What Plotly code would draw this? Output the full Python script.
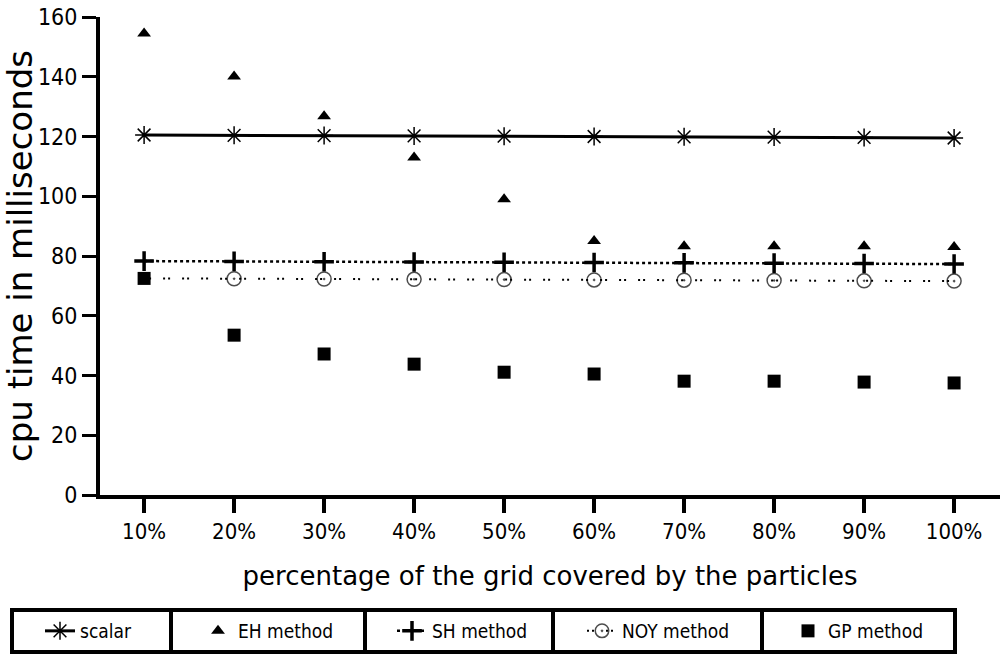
import plotly.graph_objects as go

categories = ["10%", "20%", "30%", "40%", "50%", "60%", "70%", "80%", "90%", "100%"]
xpos = [1, 2, 3, 4, 5, 6, 7, 8, 9, 10]
scalar = [120.5, 120.4, 120.3, 120.2, 120.1, 120.0, 119.9, 119.8, 119.7, 119.5]
eh = [154.5, 140.1, 126.8, 113.0, 99.0, 85.0, 83.3, 83.3, 83.3, 83.0]
sh = [78.3, 78.2, 78.1, 78.0, 77.9, 77.8, 77.7, 77.6, 77.5, 77.3]
noy = [72.5, 72.4, 72.3, 72.2, 72.1, 72.0, 71.9, 71.8, 71.7, 71.6]
gp = [72.5, 53.5, 47.2, 43.8, 41.1, 40.5, 38.1, 38.1, 37.8, 37.5]

FONT = "DejaVu Sans Condensed, Liberation Sans Narrow, sans-serif"
TFONT = "DejaVu Sans, Verdana, sans-serif"

fig = go.Figure()
fig.add_trace(go.Scatter(x=xpos, y=scalar, name="scalar", mode="lines+markers",
    line=dict(color="black", width=3),
    marker=dict(symbol="asterisk-open", size=15, line=dict(color="black", width=1.5)),
    legend="legend"))
fig.add_trace(go.Scatter(x=xpos, y=eh, name="EH method", mode="markers",
    marker=dict(symbol="triangle-up", size=12, color="black"),
    legend="legend2"))
fig.add_trace(go.Scatter(x=xpos, y=sh, name="SH method", mode="lines+markers",
    line=dict(color="black", width=2.5, dash="dot"),
    marker=dict(symbol="cross-thin-open", size=14, line=dict(color="black", width=3.5)),
    legend="legend3"))
fig.add_trace(go.Scatter(x=xpos, y=noy, name="NOY method", mode="lines+markers",
    line=dict(color="black", width=2, dash="2px,3px,2px,12px"),
    marker=dict(symbol="circle-open-dot", size=[9, 14, 14, 14, 14, 14, 14, 14, 14, 14],
                color="black", line=dict(color="black", width=1.5)),
    legend="legend4"))
fig.add_trace(go.Scatter(x=xpos, y=gp, name="GP method", mode="markers",
    marker=dict(symbol="square", size=13, color="black"),
    legend="legend5"))

W, H = 1003, 656
L, R, T, B = 100, 3, 17, 161
pw, ph = W - L - R, H - T - B

def px(x):
    return (x - L) / pw

def py(y):
    return (H - B - y) / ph

shapes = []
shapes.append(dict(type="rect", xref="paper", yref="paper",
                   x0=px(12), x1=px(955), y0=py(652), y1=py(610),
                   line=dict(color="black", width=4), fillcolor="rgba(0,0,0,0)"))
for xv in [171, 365, 553, 762]:
    shapes.append(dict(type="line", xref="paper", yref="paper",
                       x0=px(xv), x1=px(xv), y0=py(652), y1=py(610),
                       line=dict(color="black", width=4)))

legfont = dict(family=FONT, size=19, color="black")
ly = 1 - 631 / H
legs = {}
for key, xv in [("legend", 40), ("legend2", 198), ("legend3", 392), ("legend4", 582), ("legend5", 788)]:
    legs[key] = dict(x=xv / W, y=ly, xref="container", yref="container",
                     xanchor="left", yanchor="middle", orientation="h",
                     font=legfont, bgcolor="rgba(0,0,0,0)", borderwidth=0)

fig.update_layout(
    width=W, height=H,
    margin=dict(l=L, r=R, t=T, b=B, pad=0),
    plot_bgcolor="white", paper_bgcolor="white",
    showlegend=True,
    shapes=shapes,
    xaxis=dict(range=[0.51, 10.51], tickmode="array", tickvals=xpos, ticktext=categories,
               showgrid=False, zeroline=False, showline=True, linecolor="black", linewidth=4,
               ticks="outside", ticklen=14, tickwidth=4, tickcolor="black",
               tickfont=dict(family=FONT, size=22, color="black"),
               title=dict(text="percentage of the grid covered by the particles",
                          font=dict(family=TFONT, size=26, color="black"), standoff=24)),
    yaxis=dict(range=[0, 160], tickmode="array", tickvals=[0, 20, 40, 60, 80, 100, 120, 140, 160],
               showgrid=False, zeroline=False, showline=True, linecolor="black", linewidth=4,
               ticks="outside", ticklen=14, tickwidth=2.5, tickcolor="black",
               tickfont=dict(family=FONT, size=23, color="black"),
               title=dict(text="cpu time in milliseconds",
                          font=dict(family=TFONT, size=34, color="black"), standoff=6)),
    **legs,
)

fig.write_html("out.html")
